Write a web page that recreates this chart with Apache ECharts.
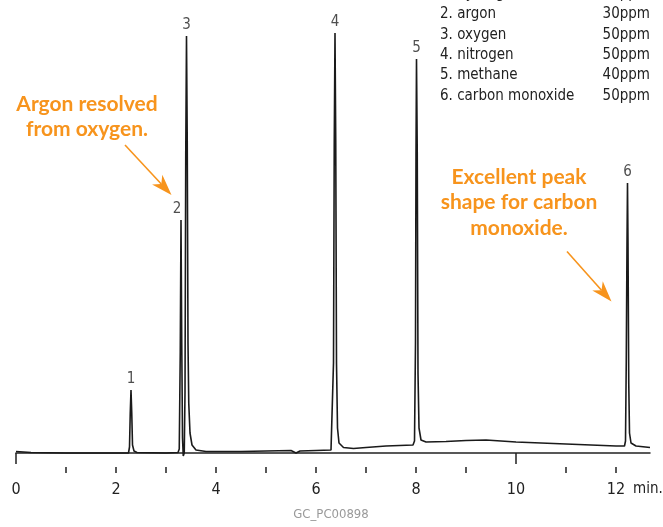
<!DOCTYPE html>
<html>
<head>
<meta charset="utf-8">
<script src="https://cdn.jsdelivr.net/npm/echarts@6/dist/echarts.min.js"></script>
<style>html,body{margin:0;padding:0;background:#fff}#c{width:663px;height:527px}</style>
</head>
<body>
<div id="c"></div>
<script>
// ---- data ----
// chromatogram trace: [time (min), detector signal]
const trace = [
  [0,1.5],[0.3,0.5],[1,0],[2,0],[2.25,0],
  [2.27,6],[2.285,40],[2.30,63],[2.315,40],[2.33,8],[2.36,2],[2.42,0.5],
  [3.0,0],[3.24,0.5],[3.265,4],
  [3.285,100],[3.30,233],[3.315,110],[3.33,15],[3.345,-3],[3.365,0],
  [3.38,60],[3.395,300],[3.41,417],[3.425,310],[3.44,110],[3.455,50],[3.48,20],[3.52,8],[3.6,3],[3.8,1.5],
  [4.5,1.5],[5.0,2],[5.5,2.5],[5.6,0],[5.68,2],[6.0,2.5],[6.3,3],
  [6.33,5],[6.35,90],[6.365,310],[6.38,420],[6.395,310],[6.41,90],[6.43,25],[6.46,10],[6.55,5.5],[6.75,4.5],[7.0,5.5],[7.4,7],[7.94,8],
  [7.97,12],[7.99,110],[8.0,300],[8.01,394],[8.025,300],[8.04,80],[8.06,25],[8.1,13],[8.2,11],
  [8.6,11.5],[9.0,12.5],[9.4,13],[10,11],[11,9],[12,7],[12.17,7],
  [12.19,12],[12.205,90],[12.22,210],[12.23,270],[12.24,210],[12.255,70],[12.27,20],[12.3,10],[12.4,7],[12.68,5.5]
];
const peakNumbers = ['1','2','3','4','5','6'];
const peakTimes   = [2.30, 3.30, 3.41, 6.38, 8.01, 12.23];
const peakHeights = [63, 233, 417, 420, 394, 270];
const compoundNames  = ['hydrogen','argon','oxygen','nitrogen','methane','carbon monoxide'];
const concentrations = ['40ppm','30ppm','50ppm','50ppm','40ppm','50ppm'];
const labelTicks = [0,2,4,6,8,10,12];
const longTicks  = [0,10];
const shortTicks = [1,2,3,4,5,6,7,8,9,11,12];
const xMin = 0, xMax = 12.68;
const axisUnit = 'min.';
const chartCode = 'GC_PC00898';
const note1 = ['Argon resolved','from oxygen.'];
const note2 = ['Excellent peak','shape for carbon','monoxide.'];

// ---- chart ----
const narrow = '"Liberation Sans Narrow","DejaVu Sans Condensed",sans-serif';
const orange = '#F7941D';
const chart = echarts.init(document.getElementById('c'), null, {renderer:'canvas'});

const graphics = [];
compoundNames.forEach((n,i)=>{
  const y = -5.5 + i*20.4;
  graphics.push({type:'text', left:440, top:y-8, style:{text:(i+1)+'. '+n, font:'15px '+narrow, fill:'#222'}});
  graphics.push({type:'text', right:13, top:y-8, style:{text:concentrations[i], font:'15px '+narrow, fill:'#222', textAlign:'right'}});
});
note1.forEach((t,i)=>{
  graphics.push({type:'text', x:87, y:104+i*25, style:{text:t, font:'bold 21px Lato, "Open Sans", sans-serif', fill:orange, textAlign:'center', textVerticalAlign:'middle'}});
});
note2.forEach((t,i)=>{
  graphics.push({type:'text', x:519, y:177+i*25.5, style:{text:t, font:'bold 21px Lato, "Open Sans", sans-serif', fill:orange, textAlign:'center', textVerticalAlign:'middle'}});
});
function arrow(x1,y1,x2,y2){
  const dx=x2-x1, dy=y2-y1, L=Math.hypot(dx,dy), ux=dx/L, uy=dy/L;
  const bx=x2-21*ux, by=y2-21*uy, px=-uy*7, py=ux*7;
  graphics.push({type:'line', shape:{x1:x1,y1:y1,x2:x2-15*ux,y2:y2-15*uy}, style:{stroke:orange, lineWidth:1.6}});
  graphics.push({type:'polygon', shape:{points:[[x2,y2],[bx+px,by+py],[x2-15*ux,y2-15*uy],[bx-px,by-py]]}, style:{fill:orange}});
}
arrow(125,145,171.5,195);
arrow(567,251.5,611.5,301.5);
graphics.push({type:'text', x:633, y:489, style:{text:axisUnit, font:'15px '+narrow, fill:'#222', textVerticalAlign:'middle'}});
graphics.push({type:'text', x:331, y:515, style:{text:chartCode, font:'13px '+narrow, fill:'#999', textAlign:'center', textVerticalAlign:'middle'}});

chart.setOption({
  animation:false,
  grid:{left:16, right:13, top:0, bottom:60, containLabel:false, outerBoundsMode:'none'},
  xAxis:[{
    type:'value', min:xMin, max:xMax, position:'bottom',
    axisLine:{lineStyle:{color:'#222', width:1.5}},
    axisTick:{customValues:longTicks, length:11, lineStyle:{color:'#222', width:1.5}},
    axisLabel:{customValues:labelTicks, color:'#222', fontSize:16, fontFamily:narrow, margin:15},
    splitLine:{show:false}
  },{
    type:'value', min:xMin, max:xMax, position:'bottom', offset:0,
    axisLine:{show:false},
    axisTick:{customValues:shortTicks, length:6, lineStyle:{color:'#222', width:1.5}},
    axisLabel:{show:false}, splitLine:{show:false}
  }],
  yAxis:{type:'value', min:-14, max:453, show:false},
  series:[{
    type:'line', data:trace, showSymbol:false, smooth:false,
    lineStyle:{color:'#1a1a1a', width:1.6}, z:3
  },{
    type:'scatter', symbolSize:0,
    data:peakTimes.map((t,i)=>({value:[t,peakHeights[i]], label:{formatter:peakNumbers[i], offset: i===1?[-4,0]:[0,0]}})),
    label:{show:true, position:'top', distance:3, color:'#222', fontSize:15, fontFamily:narrow}
  }],
  graphic:graphics
});
</script>
</body>
</html>
